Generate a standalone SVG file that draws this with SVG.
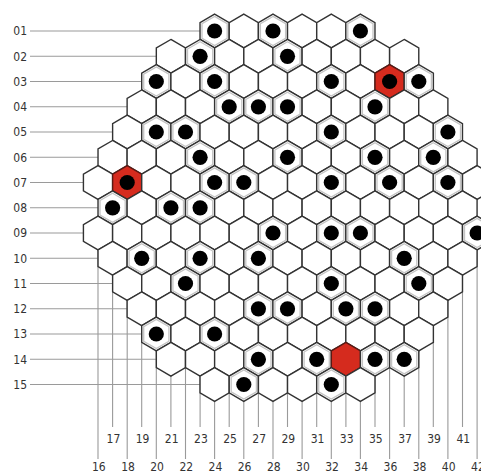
<svg xmlns="http://www.w3.org/2000/svg" xmlns:xlink="http://www.w3.org/1999/xlink" width="481" height="473" viewBox="0 0 481 473">
<style>
.bg{fill:#fff}
.ln{stroke:#9a9a9a;stroke-width:1.1;fill:none}
.hx{fill:#fff;stroke:#333;stroke-width:1.4}
.hxr{fill:#d52b1e;stroke:#5a1a14;stroke-width:1.4}
.in{fill:none;stroke:#c4c4c4;stroke-width:1.3}
.dot{fill:#000}
.lb{font-family:"DejaVu Sans Condensed","Liberation Sans",sans-serif;font-size:12px;fill:#333}
.rl{text-anchor:end}
.cl{text-anchor:middle}
</style>
<defs>
<polygon id="p" points="0,-16.83 14.58,-8.42 14.58,8.42 0,16.83 -14.58,8.42 -14.58,-8.42"/>
<g id="e"><use xlink:href="#p" class="hx"/></g>
<g id="d"><use xlink:href="#p" class="hx"/><polygon class="in" points="0,-14.6 12.6,-7.3 12.6,7.3 0,14.6 -12.6,7.3 -12.6,-7.3"/><circle class="dot" r="7.6"/></g>
<g id="r"><use xlink:href="#p" class="hxr"/><circle class="dot" r="7.6"/></g>
<g id="R"><use xlink:href="#p" class="hxr"/></g>
</defs>
<rect class="bg" width="481" height="473"/>
<g id="connectors">
<line class="ln" x1="30" y1="31" x2="214.6" y2="31"/>
<line class="ln" x1="30" y1="56.3" x2="170.9" y2="56.3"/>
<line class="ln" x1="30" y1="81.5" x2="156.3" y2="81.5"/>
<line class="ln" x1="30" y1="106.8" x2="141.7" y2="106.8"/>
<line class="ln" x1="30" y1="132" x2="127.2" y2="132"/>
<line class="ln" x1="30" y1="157.3" x2="112.6" y2="157.3"/>
<line class="ln" x1="30" y1="182.5" x2="98" y2="182.5"/>
<line class="ln" x1="30" y1="207.8" x2="112.6" y2="207.8"/>
<line class="ln" x1="30" y1="233" x2="98" y2="233"/>
<line class="ln" x1="30" y1="258.3" x2="112.6" y2="258.3"/>
<line class="ln" x1="30" y1="283.5" x2="127.2" y2="283.5"/>
<line class="ln" x1="30" y1="308.8" x2="141.7" y2="308.8"/>
<line class="ln" x1="30" y1="334" x2="156.3" y2="334"/>
<line class="ln" x1="30" y1="359.3" x2="170.9" y2="359.3"/>
<line class="ln" x1="30" y1="384.5" x2="214.6" y2="384.5"/>
<line class="ln" x1="98" y1="249.8" x2="98" y2="459"/>
<line class="ln" x1="112.6" y1="275.1" x2="112.6" y2="427"/>
<line class="ln" x1="127.2" y1="300.3" x2="127.2" y2="459"/>
<line class="ln" x1="141.7" y1="325.6" x2="141.7" y2="427"/>
<line class="ln" x1="156.3" y1="350.8" x2="156.3" y2="459"/>
<line class="ln" x1="170.9" y1="376.1" x2="170.9" y2="427"/>
<line class="ln" x1="185.5" y1="350.8" x2="185.5" y2="459"/>
<line class="ln" x1="200.1" y1="376.1" x2="200.1" y2="427"/>
<line class="ln" x1="214.6" y1="401.3" x2="214.6" y2="459"/>
<line class="ln" x1="229.2" y1="376.1" x2="229.2" y2="427"/>
<line class="ln" x1="243.8" y1="401.3" x2="243.8" y2="459"/>
<line class="ln" x1="258.4" y1="376.1" x2="258.4" y2="427"/>
<line class="ln" x1="273" y1="401.3" x2="273" y2="459"/>
<line class="ln" x1="287.5" y1="376.1" x2="287.5" y2="427"/>
<line class="ln" x1="302.1" y1="401.3" x2="302.1" y2="459"/>
<line class="ln" x1="316.7" y1="376.1" x2="316.7" y2="427"/>
<line class="ln" x1="331.3" y1="401.3" x2="331.3" y2="459"/>
<line class="ln" x1="345.9" y1="376.1" x2="345.9" y2="427"/>
<line class="ln" x1="360.4" y1="401.3" x2="360.4" y2="459"/>
<line class="ln" x1="375" y1="376.1" x2="375" y2="427"/>
<line class="ln" x1="389.6" y1="350.8" x2="389.6" y2="459"/>
<line class="ln" x1="404.2" y1="376.1" x2="404.2" y2="427"/>
<line class="ln" x1="418.8" y1="350.8" x2="418.8" y2="459"/>
<line class="ln" x1="433.3" y1="325.6" x2="433.3" y2="427"/>
<line class="ln" x1="447.9" y1="300.3" x2="447.9" y2="459"/>
<line class="ln" x1="462.5" y1="275.1" x2="462.5" y2="427"/>
<line class="ln" x1="477.1" y1="249.8" x2="477.1" y2="459"/>
</g>
<g id="row01">
<g id="n01-24"><use xlink:href="#d" x="214.6" y="31"/></g>
<g id="n01-26"><use xlink:href="#e" x="243.8" y="31"/></g>
<g id="n01-28"><use xlink:href="#d" x="273" y="31"/></g>
<g id="n01-30"><use xlink:href="#e" x="302.1" y="31"/></g>
<g id="n01-32"><use xlink:href="#e" x="331.3" y="31"/></g>
<g id="n01-34"><use xlink:href="#d" x="360.4" y="31"/></g>
</g>
<g id="row02">
<g id="n02-21"><use xlink:href="#e" x="170.9" y="56.3"/></g>
<g id="n02-23"><use xlink:href="#d" x="200.1" y="56.3"/></g>
<g id="n02-25"><use xlink:href="#e" x="229.2" y="56.3"/></g>
<g id="n02-27"><use xlink:href="#e" x="258.4" y="56.3"/></g>
<g id="n02-29"><use xlink:href="#d" x="287.5" y="56.3"/></g>
<g id="n02-31"><use xlink:href="#e" x="316.7" y="56.3"/></g>
<g id="n02-33"><use xlink:href="#e" x="345.9" y="56.3"/></g>
<g id="n02-35"><use xlink:href="#e" x="375" y="56.3"/></g>
<g id="n02-37"><use xlink:href="#e" x="404.2" y="56.3"/></g>
</g>
<g id="row03">
<g id="n03-20"><use xlink:href="#d" x="156.3" y="81.5"/></g>
<g id="n03-22"><use xlink:href="#e" x="185.5" y="81.5"/></g>
<g id="n03-24"><use xlink:href="#d" x="214.6" y="81.5"/></g>
<g id="n03-26"><use xlink:href="#e" x="243.8" y="81.5"/></g>
<g id="n03-28"><use xlink:href="#e" x="273" y="81.5"/></g>
<g id="n03-30"><use xlink:href="#e" x="302.1" y="81.5"/></g>
<g id="n03-32"><use xlink:href="#d" x="331.3" y="81.5"/></g>
<g id="n03-34"><use xlink:href="#e" x="360.4" y="81.5"/></g>
<g id="n03-36"><use xlink:href="#r" x="389.6" y="81.5"/></g>
<g id="n03-38"><use xlink:href="#d" x="418.8" y="81.5"/></g>
</g>
<g id="row04">
<g id="n04-19"><use xlink:href="#e" x="141.7" y="106.8"/></g>
<g id="n04-21"><use xlink:href="#e" x="170.9" y="106.8"/></g>
<g id="n04-23"><use xlink:href="#e" x="200.1" y="106.8"/></g>
<g id="n04-25"><use xlink:href="#d" x="229.2" y="106.8"/></g>
<g id="n04-27"><use xlink:href="#d" x="258.4" y="106.8"/></g>
<g id="n04-29"><use xlink:href="#d" x="287.5" y="106.8"/></g>
<g id="n04-31"><use xlink:href="#e" x="316.7" y="106.8"/></g>
<g id="n04-33"><use xlink:href="#e" x="345.9" y="106.8"/></g>
<g id="n04-35"><use xlink:href="#d" x="375" y="106.8"/></g>
<g id="n04-37"><use xlink:href="#e" x="404.2" y="106.8"/></g>
<g id="n04-39"><use xlink:href="#e" x="433.3" y="106.8"/></g>
</g>
<g id="row05">
<g id="n05-18"><use xlink:href="#e" x="127.2" y="132"/></g>
<g id="n05-20"><use xlink:href="#d" x="156.3" y="132"/></g>
<g id="n05-22"><use xlink:href="#d" x="185.5" y="132"/></g>
<g id="n05-24"><use xlink:href="#e" x="214.6" y="132"/></g>
<g id="n05-26"><use xlink:href="#e" x="243.8" y="132"/></g>
<g id="n05-28"><use xlink:href="#e" x="273" y="132"/></g>
<g id="n05-30"><use xlink:href="#e" x="302.1" y="132"/></g>
<g id="n05-32"><use xlink:href="#d" x="331.3" y="132"/></g>
<g id="n05-34"><use xlink:href="#e" x="360.4" y="132"/></g>
<g id="n05-36"><use xlink:href="#e" x="389.6" y="132"/></g>
<g id="n05-38"><use xlink:href="#e" x="418.8" y="132"/></g>
<g id="n05-40"><use xlink:href="#d" x="447.9" y="132"/></g>
</g>
<g id="row06">
<g id="n06-17"><use xlink:href="#e" x="112.6" y="157.3"/></g>
<g id="n06-19"><use xlink:href="#e" x="141.7" y="157.3"/></g>
<g id="n06-21"><use xlink:href="#e" x="170.9" y="157.3"/></g>
<g id="n06-23"><use xlink:href="#d" x="200.1" y="157.3"/></g>
<g id="n06-25"><use xlink:href="#e" x="229.2" y="157.3"/></g>
<g id="n06-27"><use xlink:href="#e" x="258.4" y="157.3"/></g>
<g id="n06-29"><use xlink:href="#d" x="287.5" y="157.3"/></g>
<g id="n06-31"><use xlink:href="#e" x="316.7" y="157.3"/></g>
<g id="n06-33"><use xlink:href="#e" x="345.9" y="157.3"/></g>
<g id="n06-35"><use xlink:href="#d" x="375" y="157.3"/></g>
<g id="n06-37"><use xlink:href="#e" x="404.2" y="157.3"/></g>
<g id="n06-39"><use xlink:href="#d" x="433.3" y="157.3"/></g>
<g id="n06-41"><use xlink:href="#e" x="462.5" y="157.3"/></g>
</g>
<g id="row07">
<g id="n07-16"><use xlink:href="#e" x="98" y="182.5"/></g>
<g id="n07-18"><use xlink:href="#r" x="127.2" y="182.5"/></g>
<g id="n07-20"><use xlink:href="#e" x="156.3" y="182.5"/></g>
<g id="n07-22"><use xlink:href="#e" x="185.5" y="182.5"/></g>
<g id="n07-24"><use xlink:href="#d" x="214.6" y="182.5"/></g>
<g id="n07-26"><use xlink:href="#d" x="243.8" y="182.5"/></g>
<g id="n07-28"><use xlink:href="#e" x="273" y="182.5"/></g>
<g id="n07-30"><use xlink:href="#e" x="302.1" y="182.5"/></g>
<g id="n07-32"><use xlink:href="#d" x="331.3" y="182.5"/></g>
<g id="n07-34"><use xlink:href="#e" x="360.4" y="182.5"/></g>
<g id="n07-36"><use xlink:href="#d" x="389.6" y="182.5"/></g>
<g id="n07-38"><use xlink:href="#e" x="418.8" y="182.5"/></g>
<g id="n07-40"><use xlink:href="#d" x="447.9" y="182.5"/></g>
<g id="n07-42"><use xlink:href="#e" x="477.1" y="182.5"/></g>
</g>
<g id="row08">
<g id="n08-17"><use xlink:href="#d" x="112.6" y="207.8"/></g>
<g id="n08-19"><use xlink:href="#e" x="141.7" y="207.8"/></g>
<g id="n08-21"><use xlink:href="#d" x="170.9" y="207.8"/></g>
<g id="n08-23"><use xlink:href="#d" x="200.1" y="207.8"/></g>
<g id="n08-25"><use xlink:href="#e" x="229.2" y="207.8"/></g>
<g id="n08-27"><use xlink:href="#e" x="258.4" y="207.8"/></g>
<g id="n08-29"><use xlink:href="#e" x="287.5" y="207.8"/></g>
<g id="n08-31"><use xlink:href="#e" x="316.7" y="207.8"/></g>
<g id="n08-33"><use xlink:href="#e" x="345.9" y="207.8"/></g>
<g id="n08-35"><use xlink:href="#e" x="375" y="207.8"/></g>
<g id="n08-37"><use xlink:href="#e" x="404.2" y="207.8"/></g>
<g id="n08-39"><use xlink:href="#e" x="433.3" y="207.8"/></g>
<g id="n08-41"><use xlink:href="#e" x="462.5" y="207.8"/></g>
</g>
<g id="row09">
<g id="n09-16"><use xlink:href="#e" x="98" y="233"/></g>
<g id="n09-18"><use xlink:href="#e" x="127.2" y="233"/></g>
<g id="n09-20"><use xlink:href="#e" x="156.3" y="233"/></g>
<g id="n09-22"><use xlink:href="#e" x="185.5" y="233"/></g>
<g id="n09-24"><use xlink:href="#e" x="214.6" y="233"/></g>
<g id="n09-26"><use xlink:href="#e" x="243.8" y="233"/></g>
<g id="n09-28"><use xlink:href="#d" x="273" y="233"/></g>
<g id="n09-30"><use xlink:href="#e" x="302.1" y="233"/></g>
<g id="n09-32"><use xlink:href="#d" x="331.3" y="233"/></g>
<g id="n09-34"><use xlink:href="#d" x="360.4" y="233"/></g>
<g id="n09-36"><use xlink:href="#e" x="389.6" y="233"/></g>
<g id="n09-38"><use xlink:href="#e" x="418.8" y="233"/></g>
<g id="n09-40"><use xlink:href="#e" x="447.9" y="233"/></g>
<g id="n09-42"><use xlink:href="#d" x="477.1" y="233"/></g>
</g>
<g id="row10">
<g id="n10-17"><use xlink:href="#e" x="112.6" y="258.3"/></g>
<g id="n10-19"><use xlink:href="#d" x="141.7" y="258.3"/></g>
<g id="n10-21"><use xlink:href="#e" x="170.9" y="258.3"/></g>
<g id="n10-23"><use xlink:href="#d" x="200.1" y="258.3"/></g>
<g id="n10-25"><use xlink:href="#e" x="229.2" y="258.3"/></g>
<g id="n10-27"><use xlink:href="#d" x="258.4" y="258.3"/></g>
<g id="n10-29"><use xlink:href="#e" x="287.5" y="258.3"/></g>
<g id="n10-31"><use xlink:href="#e" x="316.7" y="258.3"/></g>
<g id="n10-33"><use xlink:href="#e" x="345.9" y="258.3"/></g>
<g id="n10-35"><use xlink:href="#e" x="375" y="258.3"/></g>
<g id="n10-37"><use xlink:href="#d" x="404.2" y="258.3"/></g>
<g id="n10-39"><use xlink:href="#e" x="433.3" y="258.3"/></g>
<g id="n10-41"><use xlink:href="#e" x="462.5" y="258.3"/></g>
</g>
<g id="row11">
<g id="n11-18"><use xlink:href="#e" x="127.2" y="283.5"/></g>
<g id="n11-20"><use xlink:href="#e" x="156.3" y="283.5"/></g>
<g id="n11-22"><use xlink:href="#d" x="185.5" y="283.5"/></g>
<g id="n11-24"><use xlink:href="#e" x="214.6" y="283.5"/></g>
<g id="n11-26"><use xlink:href="#e" x="243.8" y="283.5"/></g>
<g id="n11-28"><use xlink:href="#e" x="273" y="283.5"/></g>
<g id="n11-30"><use xlink:href="#e" x="302.1" y="283.5"/></g>
<g id="n11-32"><use xlink:href="#d" x="331.3" y="283.5"/></g>
<g id="n11-34"><use xlink:href="#e" x="360.4" y="283.5"/></g>
<g id="n11-36"><use xlink:href="#e" x="389.6" y="283.5"/></g>
<g id="n11-38"><use xlink:href="#d" x="418.8" y="283.5"/></g>
<g id="n11-40"><use xlink:href="#e" x="447.9" y="283.5"/></g>
</g>
<g id="row12">
<g id="n12-19"><use xlink:href="#e" x="141.7" y="308.8"/></g>
<g id="n12-21"><use xlink:href="#e" x="170.9" y="308.8"/></g>
<g id="n12-23"><use xlink:href="#e" x="200.1" y="308.8"/></g>
<g id="n12-25"><use xlink:href="#e" x="229.2" y="308.8"/></g>
<g id="n12-27"><use xlink:href="#d" x="258.4" y="308.8"/></g>
<g id="n12-29"><use xlink:href="#d" x="287.5" y="308.8"/></g>
<g id="n12-31"><use xlink:href="#e" x="316.7" y="308.8"/></g>
<g id="n12-33"><use xlink:href="#d" x="345.9" y="308.8"/></g>
<g id="n12-35"><use xlink:href="#d" x="375" y="308.8"/></g>
<g id="n12-37"><use xlink:href="#e" x="404.2" y="308.8"/></g>
<g id="n12-39"><use xlink:href="#e" x="433.3" y="308.8"/></g>
</g>
<g id="row13">
<g id="n13-20"><use xlink:href="#d" x="156.3" y="334"/></g>
<g id="n13-22"><use xlink:href="#e" x="185.5" y="334"/></g>
<g id="n13-24"><use xlink:href="#d" x="214.6" y="334"/></g>
<g id="n13-26"><use xlink:href="#e" x="243.8" y="334"/></g>
<g id="n13-28"><use xlink:href="#e" x="273" y="334"/></g>
<g id="n13-30"><use xlink:href="#e" x="302.1" y="334"/></g>
<g id="n13-32"><use xlink:href="#e" x="331.3" y="334"/></g>
<g id="n13-34"><use xlink:href="#e" x="360.4" y="334"/></g>
<g id="n13-36"><use xlink:href="#e" x="389.6" y="334"/></g>
<g id="n13-38"><use xlink:href="#e" x="418.8" y="334"/></g>
</g>
<g id="row14">
<g id="n14-21"><use xlink:href="#e" x="170.9" y="359.3"/></g>
<g id="n14-23"><use xlink:href="#e" x="200.1" y="359.3"/></g>
<g id="n14-25"><use xlink:href="#e" x="229.2" y="359.3"/></g>
<g id="n14-27"><use xlink:href="#d" x="258.4" y="359.3"/></g>
<g id="n14-29"><use xlink:href="#e" x="287.5" y="359.3"/></g>
<g id="n14-31"><use xlink:href="#d" x="316.7" y="359.3"/></g>
<g id="n14-33"><use xlink:href="#R" x="345.9" y="359.3"/></g>
<g id="n14-35"><use xlink:href="#d" x="375" y="359.3"/></g>
<g id="n14-37"><use xlink:href="#d" x="404.2" y="359.3"/></g>
</g>
<g id="row15">
<g id="n15-24"><use xlink:href="#e" x="214.6" y="384.5"/></g>
<g id="n15-26"><use xlink:href="#d" x="243.8" y="384.5"/></g>
<g id="n15-28"><use xlink:href="#e" x="273" y="384.5"/></g>
<g id="n15-30"><use xlink:href="#e" x="302.1" y="384.5"/></g>
<g id="n15-32"><use xlink:href="#d" x="331.3" y="384.5"/></g>
<g id="n15-34"><use xlink:href="#e" x="360.4" y="384.5"/></g>
</g>
<g id="row-labels" class="lb rl">
<text x="27" y="35.3">01</text>
<text x="27" y="60.6">02</text>
<text x="27" y="85.8">03</text>
<text x="27" y="111.1">04</text>
<text x="27" y="136.3">05</text>
<text x="27" y="161.6">06</text>
<text x="27" y="186.8">07</text>
<text x="27" y="212.1">08</text>
<text x="27" y="237.3">09</text>
<text x="27" y="262.6">10</text>
<text x="27" y="287.8">11</text>
<text x="27" y="313.1">12</text>
<text x="27" y="338.3">13</text>
<text x="27" y="363.6">14</text>
<text x="27" y="388.8">15</text>
</g>
<g id="col-labels" class="lb cl">
<text x="113.4" y="442.5">17</text>
<text x="142.5" y="442.5">19</text>
<text x="171.7" y="442.5">21</text>
<text x="200.9" y="442.5">23</text>
<text x="230" y="442.5">25</text>
<text x="259.2" y="442.5">27</text>
<text x="288.3" y="442.5">29</text>
<text x="317.5" y="442.5">31</text>
<text x="346.7" y="442.5">33</text>
<text x="375.8" y="442.5">35</text>
<text x="405" y="442.5">37</text>
<text x="434.1" y="442.5">39</text>
<text x="463.3" y="442.5">41</text>
<text x="98.8" y="470.5">16</text>
<text x="128" y="470.5">18</text>
<text x="157.1" y="470.5">20</text>
<text x="186.3" y="470.5">22</text>
<text x="215.4" y="470.5">24</text>
<text x="244.6" y="470.5">26</text>
<text x="273.8" y="470.5">28</text>
<text x="302.9" y="470.5">30</text>
<text x="332.1" y="470.5">32</text>
<text x="361.2" y="470.5">34</text>
<text x="390.4" y="470.5">36</text>
<text x="419.6" y="470.5">38</text>
<text x="448.7" y="470.5">40</text>
<text x="477.9" y="470.5">42</text>
</g>
</svg>
